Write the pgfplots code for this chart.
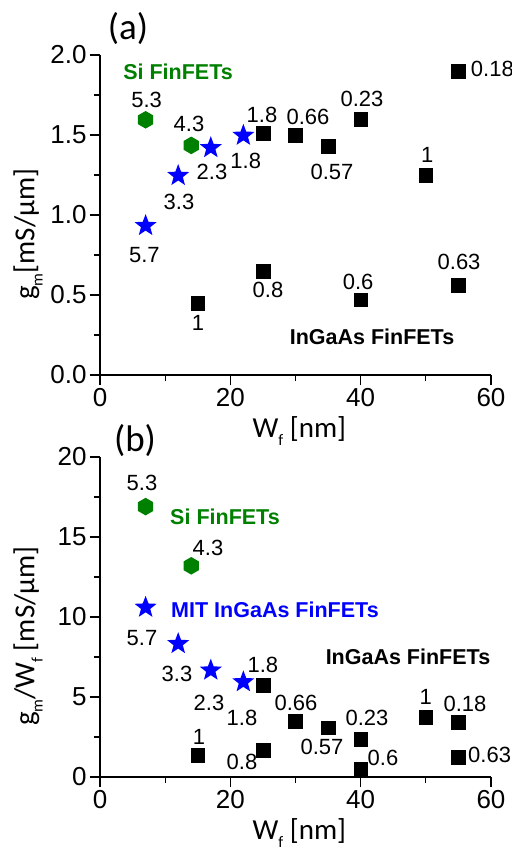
\documentclass[border=0pt]{standalone}
\usepackage{fontspec}
\setmainfont{Liberation Sans}
\newfontfamily\carlito{Carlito}
\usepackage{pgfplots}
\pgfplotsset{compat=1.18}
\definecolor{sigreen}{RGB}{0,128,0}
\definecolor{starblue}{RGB}{0,0,255}
\newcommand{\sub}[1]{\raisebox{-0.28em}{\fontsize{16}{16}\selectfont #1}}

\pgfdeclareplotmark{hexa}{%
  \pgfpathmoveto{\pgfpointpolar{90}{\pgfplotmarksize}}%
  \pgfpathlineto{\pgfpointpolar{150}{\pgfplotmarksize}}%
  \pgfpathlineto{\pgfpointpolar{210}{\pgfplotmarksize}}%
  \pgfpathlineto{\pgfpointpolar{270}{\pgfplotmarksize}}%
  \pgfpathlineto{\pgfpointpolar{330}{\pgfplotmarksize}}%
  \pgfpathlineto{\pgfpointpolar{30}{\pgfplotmarksize}}%
  \pgfpathclose\pgfusepathqfill}
\pgfdeclareplotmark{fivestar}{%
  \pgfpathmoveto{\pgfpointpolar{90}{\pgfplotmarksize}}%
  \pgfpathlineto{\pgfpointpolar{126}{0.42\pgfplotmarksize}}%
  \pgfpathlineto{\pgfpointpolar{162}{\pgfplotmarksize}}%
  \pgfpathlineto{\pgfpointpolar{198}{0.42\pgfplotmarksize}}%
  \pgfpathlineto{\pgfpointpolar{234}{\pgfplotmarksize}}%
  \pgfpathlineto{\pgfpointpolar{270}{0.42\pgfplotmarksize}}%
  \pgfpathlineto{\pgfpointpolar{306}{\pgfplotmarksize}}%
  \pgfpathlineto{\pgfpointpolar{342}{0.42\pgfplotmarksize}}%
  \pgfpathlineto{\pgfpointpolar{18}{\pgfplotmarksize}}%
  \pgfpathlineto{\pgfpointpolar{54}{0.42\pgfplotmarksize}}%
  \pgfpathclose\pgfusepathqfill}

\tikzset{
  num/.style={font=\fontsize{22}{22}\selectfont, inner sep=0pt},
  lab/.style={font=\fontsize{21.5}{21.5}\selectfont\bfseries, inner sep=0pt},
  plab/.style={font=\fontsize{37}{37}\selectfont\carlito, inner sep=0pt},
}
\pgfplotsset{
  panel/.style={
    scale only axis, width=391pt, height=320pt,
    xmin=0, xmax=60, xtick={0,20,40,60},
    axis lines=left, axis line style={-, line width=1.2pt},
    every tick/.style={line width=1.2pt, black},
    tick align=outside, major tick length=10pt, minor tick length=6pt,
    minor x tick num=1, minor y tick num=1,
    tick label style={font=\fontsize{26}{26}\selectfont},
    /pgf/number format/assume math mode=true,
    clip=false,
    xlabel={\carlito W\sub{f} [nm]},
    xlabel style={font=\fontsize{29}{29}\selectfont\carlito, at={(axis description cs:0.51,-0.194)}, anchor=base},
    ylabel style={font=\fontsize{29}{29}\selectfont\carlito, at={(axis description cs:-0.184,0.44)}, anchor=center},
  },
  sq/.style={only marks, mark=square*, mark size=6.8pt, black, mark options={draw=none}},
  hx/.style={only marks, mark=hexa, mark size=8.8pt, sigreen},
  st/.style={only marks, mark=fivestar, mark size=11.6pt, starblue},
}

\begin{document}
\begin{tikzpicture}
% ---------------- (a)
\begin{axis}[panel, at={(100pt,-375pt)}, anchor=south west,
  ymin=0, ymax=2, ytick={0,0.5,1,1.5,2},
  yticklabel style={/pgf/number format/.cd, fixed, fixed zerofill, precision=1},
  ylabel={g\sub{m}[mS/µm]}]
\addplot[hx] coordinates {(7,1.595) (14,1.435)};
\addplot[st] coordinates {(7,0.933) (12,1.246) (17,1.42) (22,1.497)};
\addplot[sq] coordinates {(15,0.45) (25,0.65) (25,1.51) (30,1.50) (35,1.43) (40,1.60) (40,0.47) (50,1.25) (55,1.90) (55,0.56)};
\node[num] at (axis cs:7.15,1.72) {5.3};
\node[num] at (axis cs:13.66,1.57) {4.3};
\node[num] at (axis cs:22.36,1.34) {1.8};
\node[num] at (axis cs:17.19,1.27) {2.3};
\node[num] at (axis cs:12.12,1.083) {3.3};
\node[num] at (axis cs:6.8,0.75) {5.7};
\node[num] at (axis cs:24.86,1.625) {1.8};
\node[num] at (axis cs:31.92,1.61) {0.66};
\node[num] at (axis cs:35.6,1.27) {0.57};
\node[num] at (axis cs:40.2,1.725) {0.23};
\node[num] at (axis cs:50.2,1.375) {1};
\node[num, anchor=west] at (axis cs:56.9,1.91) {0.18};
\node[num] at (axis cs:15.04,0.325) {1};
\node[num] at (axis cs:25.78,0.53) {0.8};
\node[num] at (axis cs:39.6,0.583) {0.6};
\node[num] at (axis cs:55.1,0.708) {0.63};
\node[lab, text=sigreen] at (axis cs:11.97,1.894) {Si FinFETs};
\node[lab] at (axis cs:41.74,0.239) {InGaAs FinFETs};
\node[plab] at (axis cs:4.3,2.165) {(a)};
\end{axis}
% ---------------- (b)
\begin{axis}[panel, at={(100pt,-777pt)}, anchor=south west,
  ymin=0, ymax=20, ytick={0,5,10,15,20},
  ylabel={g\sub{m}/W\sub{f} [mS/µm]}]
\addplot[hx] coordinates {(7,16.9) (14,13.2)};
\addplot[st] coordinates {(7,10.6) (12,8.33) (17,6.67) (22,5.94)};
\addplot[sq] coordinates {(15,1.35) (25,1.67) (25,5.73) (30,3.5) (35,3.08) (40,2.36) (40,0.48) (50,3.75) (55,3.44) (55,1.25)};
\node[plab] at (axis cs:5.37,21.06) {(b)};
\node[num] at (axis cs:6.44,18.375) {5.3};
\node[lab, text=sigreen] at (axis cs:19.18,16.27) {Si FinFETs};
\node[num] at (axis cs:16.57,14.31) {4.3};
\node[lab, text=starblue, anchor=west] at (axis cs:10.9,10.44) {MIT InGaAs FinFETs};
\node[num] at (axis cs:6.44,8.69) {5.7};
\node[num] at (axis cs:11.82,6.44) {3.3};
\node[num] at (axis cs:25.0,7.0) {1.8};
\node[lab] at (axis cs:47.26,7.5) {InGaAs FinFETs};
\node[num] at (axis cs:16.73,4.625) {2.3};
\node[num] at (axis cs:30.08,4.625) {0.66};
\node[num] at (axis cs:50.0,5.0) {1};
\node[num] at (axis cs:56.0,4.56) {0.18};
\node[num] at (axis cs:21.79,3.69) {1.8};
\node[num] at (axis cs:40.97,3.69) {0.23};
\node[num] at (axis cs:15.19,2.5) {1};
\node[num] at (axis cs:34.06,1.875) {0.57};
\node[num] at (axis cs:21.79,0.94) {0.8};
\node[num] at (axis cs:43.42,1.19) {0.6};
\node[num, anchor=west] at (axis cs:56.47,1.375) {0.63};
\end{axis}
\pgfresetboundingbox
\path[use as bounding box] (0,0) rectangle (511pt,-848pt);
\end{tikzpicture}
\end{document}
